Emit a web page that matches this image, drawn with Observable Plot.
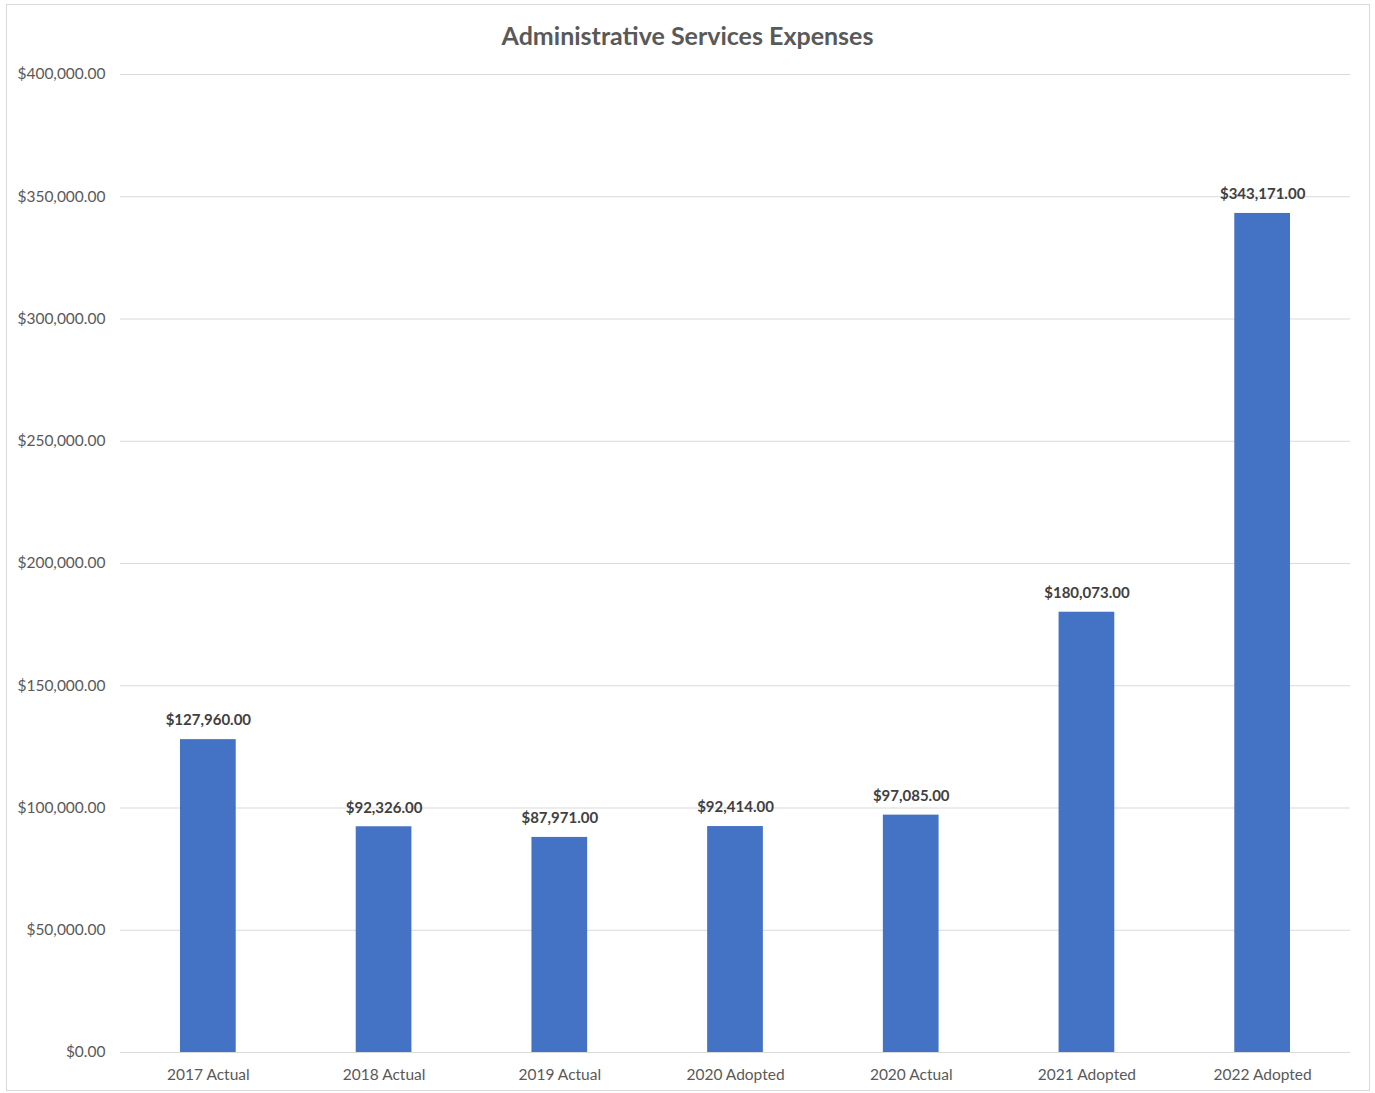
<!DOCTYPE html>
<html>
<head>
<meta charset="utf-8">
<script src="https://cdn.jsdelivr.net/npm/d3@7"></script>
<script src="https://cdn.jsdelivr.net/npm/@observablehq/plot@0.6"></script>
<style>
  html, body { margin: 0; padding: 0; background: #fff; }
  #wrap { position: relative; width: 1375px; height: 1093px; }
  #frame { position: absolute; left: 6px; top: 4px; width: 1364px; height: 1087px; border: 1px solid #d9d9d9; box-sizing: border-box; pointer-events: none; }
  #title { position: absolute; left: 0; width: 1375px; top: 20px; text-align: center; font-family: Lato, "Open Sans", sans-serif; font-weight: bold; font-size: 25px; color: #595959; }
  #chart { position: absolute; left: 0; top: 0; }
</style>
</head>
<body>
<div id="wrap">
  <div id="chart"></div>
  <div id="frame"></div>
  <div id="title">Administrative Services Expenses</div>
</div>
<script>
const categories = ["2017 Actual", "2018 Actual", "2019 Actual", "2020 Adopted", "2020 Actual", "2021 Adopted", "2022 Adopted"];
const values = [127960, 92326, 87971, 92414, 97085, 180073, 343171];
const yTicks = [0, 50000, 100000, 150000, 200000, 250000, 300000, 350000, 400000];

const data = categories.map((c, i) => ({category: c, value: values[i]}));
const money = v => "$" + d3.format(",.2f")(v);

const chart = Plot.plot({
  width: 1375,
  height: 1093,
  marginLeft: 120,
  marginRight: 25,
  marginTop: 74,
  marginBottom: 41,
  style: {fontFamily: "Lato, 'Open Sans', sans-serif", fontSize: "15.5px", color: "#595959", background: "transparent"},
  x: {domain: categories, padding: 0, round: false, label: null, tickSize: 0, tickPadding: 16},
  y: {domain: [0, 400000], ticks: yTicks, tickFormat: money, label: null, tickSize: 0, tickPadding: 15},
  marks: [
    Plot.gridY(yTicks, {stroke: "#d9d9d9", strokeOpacity: 1, strokeWidth: 1}),
    Plot.barY(data, {x: "category", y: "value", fill: "#4472C4", insetLeft: 60, insetRight: 60}),
    Plot.text(data, {x: "category", y: "value", text: d => money(d.value), dy: -19, fill: "#404040", fontWeight: "bold", fontSize: 15})
  ]
});
document.getElementById("chart").appendChild(chart);
</script>
</body>
</html>
